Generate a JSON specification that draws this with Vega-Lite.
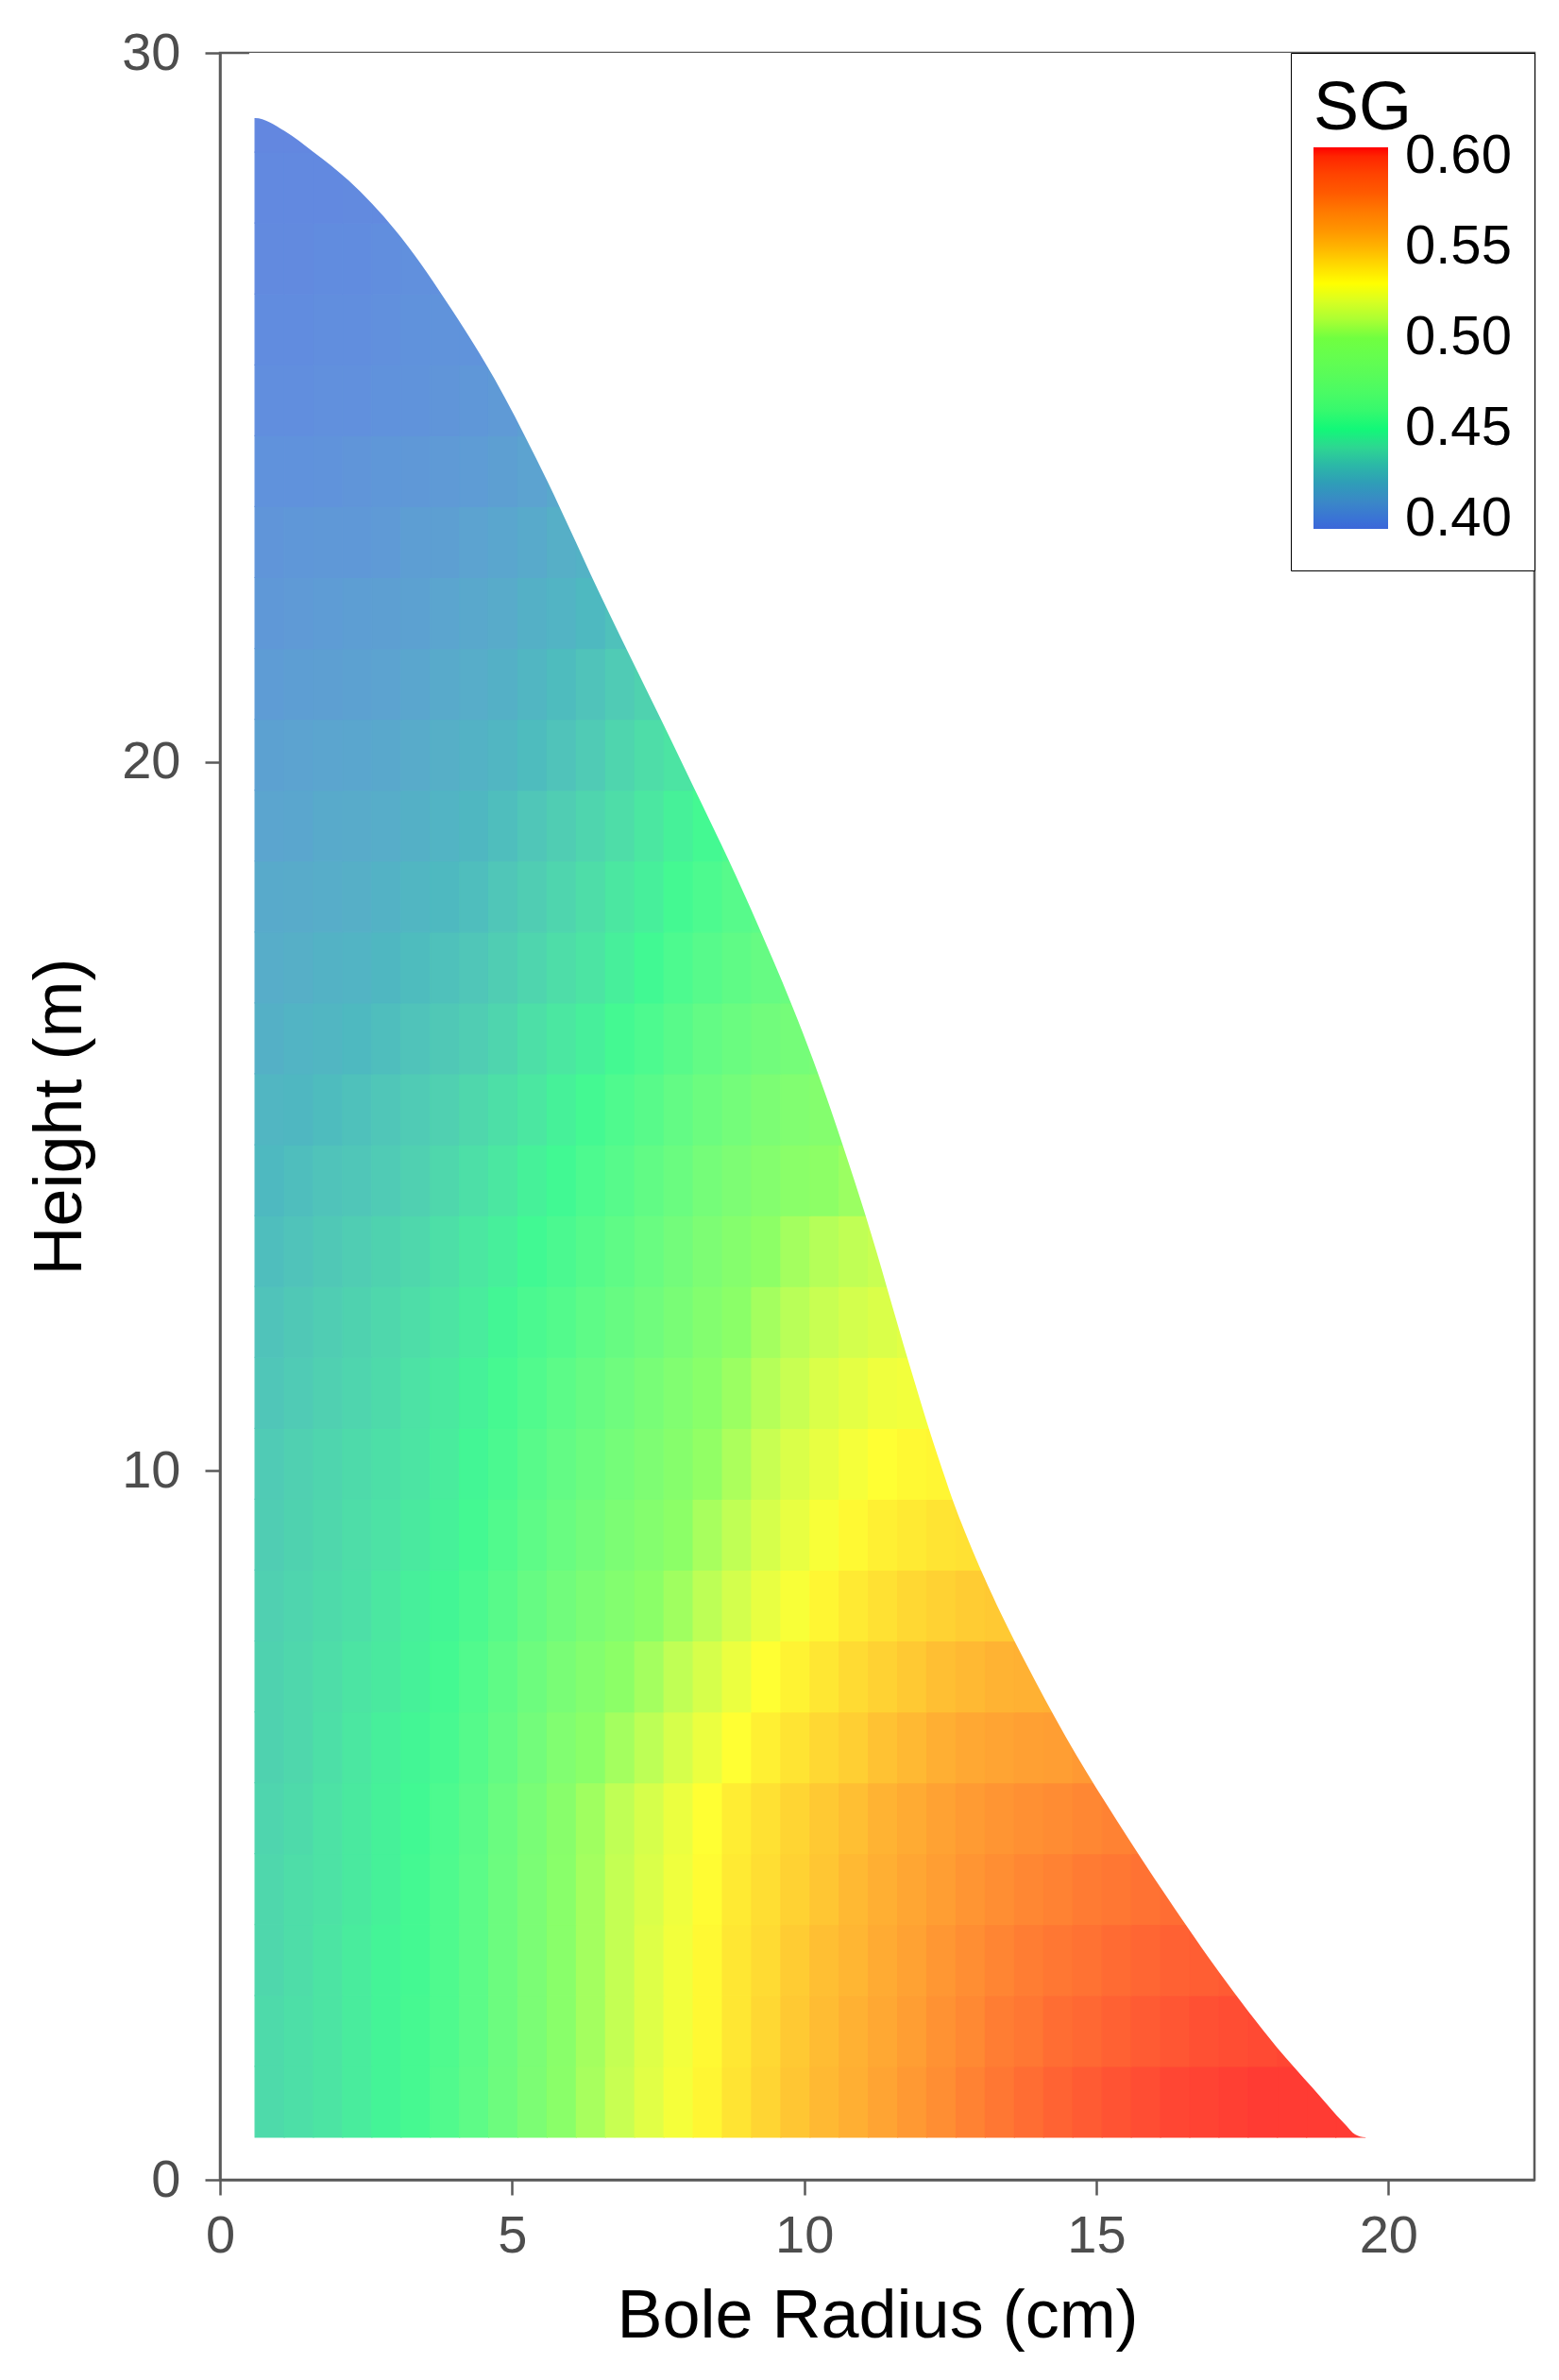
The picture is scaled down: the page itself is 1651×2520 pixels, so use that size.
{
  "$schema": "https://vega.github.io/schema/vega-lite/v6.json",
  "width": 1392,
  "height": 2252,
  "autosize": {"type": "none"},
  "padding": {"left": 233, "top": 56, "right": 26, "bottom": 212},
  "background": "white",
  "config": {
    "font": "Liberation Sans",
    "view": {"stroke": "#5a5a5a", "strokeWidth": 2.5},
    "axis": {
      "domainColor": "#5a5a5a", "domainWidth": 2.5,
      "tickColor": "#5a5a5a", "tickWidth": 2.5, "tickSize": 16,
      "labelFont": "Liberation Sans", "labelFontSize": 56, "labelColor": "#4d4d4d",
      "titleFont": "Liberation Sans", "titleFontSize": 72, "titleFontWeight": "normal", "titleColor": "black",
      "grid": false, "labelFlush": false
    }
  },
  "datasets": {
    "cols": [
      {"r0": 0.6, "r1": 1.1}, {"r0": 1.1, "r1": 1.6}, {"r0": 1.6, "r1": 2.1}, {"r0": 2.1, "r1": 2.6},
      {"r0": 2.6, "r1": 3.1}, {"r0": 3.1, "r1": 3.6}, {"r0": 3.6, "r1": 4.1}, {"r0": 4.1, "r1": 4.6},
      {"r0": 4.6, "r1": 5.1}, {"r0": 5.1, "r1": 5.6}, {"r0": 5.6, "r1": 6.1}, {"r0": 6.1, "r1": 6.6},
      {"r0": 6.6, "r1": 7.1}, {"r0": 7.1, "r1": 7.6}, {"r0": 7.6, "r1": 8.1}, {"r0": 8.1, "r1": 8.6},
      {"r0": 8.6, "r1": 9.1}, {"r0": 9.1, "r1": 9.6}, {"r0": 9.6, "r1": 10.1}, {"r0": 10.1, "r1": 10.6},
      {"r0": 10.6, "r1": 11.1}, {"r0": 11.1, "r1": 11.6}, {"r0": 11.6, "r1": 12.1}, {"r0": 12.1, "r1": 12.6},
      {"r0": 12.6, "r1": 13.1}, {"r0": 13.1, "r1": 13.6}, {"r0": 13.6, "r1": 14.1}, {"r0": 14.1, "r1": 14.6},
      {"r0": 14.6, "r1": 15.1}, {"r0": 15.1, "r1": 15.6}, {"r0": 15.6, "r1": 16.1}, {"r0": 16.1, "r1": 16.6},
      {"r0": 16.6, "r1": 17.1}, {"r0": 17.1, "r1": 17.6}, {"r0": 17.6, "r1": 18.1}, {"r0": 18.1, "r1": 18.6},
      {"r0": 18.6, "r1": 19.1}, {"r0": 19.1, "r1": 19.6}
    ],
    "cells": [
      {"h0": 0.6, "h1": 1.6, "r0": [0.6,1.1,1.6,2.1,2.6,3.1,3.6,4.1,4.6,5.1,5.6,6.1,6.6,7.1,7.6,8.1,8.6,9.1,9.6,10.1,10.6,11.1,11.6,12.1,12.6,13.1,13.6,14.1,14.6,15.1,15.6,16.1,16.6,17.1,17.6,18.1,18.6,19.1],
       "sg": [0.438,0.440,0.442,0.445,0.448,0.452,0.457,0.464,0.474,0.485,0.497,0.506,0.514,0.521,0.527,0.533,0.539,0.544,0.549,0.553,0.557,0.562,0.567,0.572,0.577,0.582,0.586,0.590,0.593,0.596,0.598,0.600,0.601,0.602,0.603,0.603,0.603,0.603]},
      {"h0": 1.6, "h1": 2.6, "r0": [0.6,1.1,1.6,2.1,2.6,3.1,3.6,4.1,4.6,5.1,5.6,6.1,6.6,7.1,7.6,8.1,8.6,9.1,9.6,10.1,10.6,11.1,11.6,12.1,12.6,13.1,13.6,14.1,14.6,15.1,15.6,16.1,16.6,17.1,17.6,18.1,18.6],
       "sg": [0.438,0.440,0.442,0.445,0.448,0.452,0.456,0.463,0.473,0.484,0.496,0.505,0.513,0.520,0.526,0.532,0.538,0.543,0.548,0.552,0.556,0.560,0.565,0.570,0.574,0.579,0.582,0.586,0.588,0.591,0.593,0.595,0.597,0.598,0.599,0.600,0.601]},
      {"h0": 2.6, "h1": 3.6, "r0": [0.6,1.1,1.6,2.1,2.6,3.1,3.6,4.1,4.6,5.1,5.6,6.1,6.6,7.1,7.6,8.1,8.6,9.1,9.6,10.1,10.6,11.1,11.6,12.1,12.6,13.1,13.6,14.1,14.6,15.1,15.6,16.1,16.6,17.1,17.6],
       "sg": [0.437,0.439,0.442,0.445,0.448,0.451,0.456,0.463,0.473,0.484,0.496,0.505,0.513,0.520,0.526,0.532,0.538,0.542,0.547,0.551,0.554,0.559,0.563,0.568,0.572,0.576,0.579,0.582,0.584,0.587,0.589,0.591,0.592,0.593,0.594]},
      {"h0": 3.6, "h1": 4.6, "r0": [0.6,1.1,1.6,2.1,2.6,3.1,3.6,4.1,4.6,5.1,5.6,6.1,6.6,7.1,7.6,8.1,8.6,9.1,9.6,10.1,10.6,11.1,11.6,12.1,12.6,13.1,13.6,14.1,14.6,15.1,15.6,16.1,16.6],
       "sg": [0.437,0.439,0.441,0.444,0.447,0.451,0.456,0.463,0.473,0.484,0.496,0.505,0.513,0.519,0.525,0.531,0.537,0.541,0.545,0.549,0.553,0.557,0.561,0.565,0.569,0.572,0.575,0.577,0.580,0.582,0.584,0.586,0.587]},
      {"h0": 4.6, "h1": 5.6, "r0": [0.6,1.1,1.6,2.1,2.6,3.1,3.6,4.1,4.6,5.1,5.6,6.1,6.6,7.1,7.6,8.1,8.6,9.1,9.6,10.1,10.6,11.1,11.6,12.1,12.6,13.1,13.6,14.1,14.6,15.1,15.6,16.1],
       "sg": [0.436,0.438,0.441,0.444,0.447,0.450,0.455,0.462,0.472,0.483,0.495,0.504,0.512,0.518,0.524,0.530,0.536,0.540,0.544,0.548,0.551,0.555,0.559,0.563,0.566,0.569,0.571,0.573,0.575,0.577,0.579,0.581]},
      {"h0": 5.6, "h1": 6.6, "r0": [0.6,1.1,1.6,2.1,2.6,3.1,3.6,4.1,4.6,5.1,5.6,6.1,6.6,7.1,7.6,8.1,8.6,9.1,9.6,10.1,10.6,11.1,11.6,12.1,12.6,13.1,13.6,14.1,14.6,15.1],
       "sg": [0.435,0.437,0.440,0.443,0.446,0.449,0.453,0.459,0.468,0.478,0.489,0.497,0.505,0.511,0.518,0.524,0.530,0.535,0.539,0.543,0.546,0.550,0.553,0.557,0.560,0.562,0.564,0.565,0.567,0.568]},
      {"h0": 6.6, "h1": 7.6, "r0": [0.6,1.1,1.6,2.1,2.6,3.1,3.6,4.1,4.6,5.1,5.6,6.1,6.6,7.1,7.6,8.1,8.6,9.1,9.6,10.1,10.6,11.1,11.6,12.1,12.6,13.1,13.6,14.1,14.6],
       "sg": [0.435,0.437,0.439,0.442,0.444,0.447,0.451,0.457,0.465,0.474,0.483,0.491,0.499,0.505,0.512,0.518,0.524,0.530,0.534,0.538,0.542,0.545,0.548,0.551,0.553,0.555,0.556,0.557,0.558]},
      {"h0": 7.6, "h1": 8.6, "r0": [0.6,1.1,1.6,2.1,2.6,3.1,3.6,4.1,4.6,5.1,5.6,6.1,6.6,7.1,7.6,8.1,8.6,9.1,9.6,10.1,10.6,11.1,11.6,12.1,12.6,13.1,13.6,14.1],
       "sg": [0.434,0.436,0.438,0.440,0.443,0.446,0.449,0.454,0.461,0.469,0.477,0.484,0.491,0.498,0.504,0.511,0.517,0.523,0.528,0.533,0.537,0.540,0.543,0.545,0.547,0.548,0.549,0.550]},
      {"h0": 8.6, "h1": 9.6, "r0": [0.6,1.1,1.6,2.1,2.6,3.1,3.6,4.1,4.6,5.1,5.6,6.1,6.6,7.1,7.6,8.1,8.6,9.1,9.6,10.1,10.6,11.1,11.6,12.1,12.6,13.1],
       "sg": [0.433,0.435,0.437,0.439,0.441,0.444,0.447,0.451,0.457,0.464,0.471,0.478,0.485,0.492,0.499,0.506,0.512,0.518,0.523,0.528,0.532,0.535,0.537,0.539,0.540,0.541]},
      {"h0": 9.6, "h1": 10.6, "r0": [0.6,1.1,1.6,2.1,2.6,3.1,3.6,4.1,4.6,5.1,5.6,6.1,6.6,7.1,7.6,8.1,8.6,9.1,9.6,10.1,10.6,11.1,11.6,12.1,12.6],
       "sg": [0.432,0.434,0.436,0.438,0.440,0.442,0.445,0.449,0.454,0.461,0.467,0.473,0.480,0.487,0.494,0.501,0.507,0.514,0.519,0.523,0.527,0.530,0.532,0.533,0.534]},
      {"h0": 10.6, "h1": 11.6, "r0": [0.6,1.1,1.6,2.1,2.6,3.1,3.6,4.1,4.6,5.1,5.6,6.1,6.6,7.1,7.6,8.1,8.6,9.1,9.6,10.1,10.6,11.1,11.6,12.1,12.6],
       "sg": [0.430,0.432,0.434,0.436,0.438,0.441,0.444,0.447,0.452,0.457,0.463,0.469,0.475,0.482,0.489,0.496,0.503,0.509,0.514,0.519,0.522,0.525,0.526,0.528,0.528]},
      {"h0": 11.6, "h1": 12.6, "r0": [0.6,1.1,1.6,2.1,2.6,3.1,3.6,4.1,4.6,5.1,5.6,6.1,6.6,7.1,7.6,8.1,8.6,9.1,9.6,10.1,10.6,11.1,11.6,12.1],
       "sg": [0.429,0.431,0.433,0.435,0.437,0.439,0.442,0.445,0.449,0.454,0.458,0.464,0.470,0.476,0.483,0.491,0.498,0.505,0.510,0.514,0.517,0.519,0.521,0.522]},
      {"h0": 12.6, "h1": 13.6, "r0": [0.6,1.1,1.6,2.1,2.6,3.1,3.6,4.1,4.6,5.1,5.6,6.1,6.6,7.1,7.6,8.1,8.6,9.1,9.6,10.1,10.6,11.1,11.6],
       "sg": [0.427,0.429,0.431,0.433,0.435,0.437,0.440,0.443,0.446,0.450,0.454,0.459,0.465,0.471,0.478,0.486,0.493,0.500,0.505,0.509,0.512,0.514,0.515]},
      {"h0": 13.6, "h1": 14.6, "r0": [0.6,1.1,1.6,2.1,2.6,3.1,3.6,4.1,4.6,5.1,5.6,6.1,6.6,7.1,7.6,8.1,8.6,9.1,9.6,10.1,10.6,11.1],
       "sg": [0.425,0.427,0.429,0.430,0.432,0.434,0.437,0.440,0.443,0.447,0.450,0.455,0.460,0.466,0.472,0.480,0.486,0.492,0.497,0.500,0.503,0.504]},
      {"h0": 14.6, "h1": 15.6, "r0": [0.6,1.1,1.6,2.1,2.6,3.1,3.6,4.1,4.6,5.1,5.6,6.1,6.6,7.1,7.6,8.1,8.6,9.1,9.6,10.1,10.6,11.1],
       "sg": [0.423,0.424,0.426,0.428,0.430,0.432,0.434,0.437,0.440,0.443,0.447,0.451,0.456,0.461,0.467,0.473,0.479,0.485,0.489,0.492,0.494,0.495]},
      {"h0": 15.6, "h1": 16.6, "r0": [0.6,1.1,1.6,2.1,2.6,3.1,3.6,4.1,4.6,5.1,5.6,6.1,6.6,7.1,7.6,8.1,8.6,9.1,9.6,10.1,10.6],
       "sg": [0.420,0.422,0.423,0.425,0.427,0.429,0.431,0.433,0.436,0.440,0.443,0.446,0.451,0.455,0.461,0.467,0.472,0.477,0.480,0.483,0.484]},
      {"h0": 16.6, "h1": 17.6, "r0": [0.6,1.1,1.6,2.1,2.6,3.1,3.6,4.1,4.6,5.1,5.6,6.1,6.6,7.1,7.6,8.1,8.6,9.1,9.6,10.1],
       "sg": [0.418,0.419,0.421,0.422,0.424,0.426,0.428,0.430,0.433,0.436,0.439,0.442,0.446,0.450,0.455,0.460,0.465,0.469,0.472,0.474]},
      {"h0": 17.6, "h1": 18.6, "r0": [0.6,1.1,1.6,2.1,2.6,3.1,3.6,4.1,4.6,5.1,5.6,6.1,6.6,7.1,7.6,8.1,8.6,9.1,9.6],
       "sg": [0.416,0.417,0.418,0.419,0.421,0.423,0.425,0.427,0.430,0.433,0.436,0.439,0.443,0.446,0.451,0.455,0.460,0.463,0.466]},
      {"h0": 18.6, "h1": 19.6, "r0": [0.6,1.1,1.6,2.1,2.6,3.1,3.6,4.1,4.6,5.1,5.6,6.1,6.6,7.1,7.6,8.1,8.6,9.1],
       "sg": [0.413,0.414,0.416,0.417,0.418,0.420,0.422,0.424,0.427,0.430,0.433,0.436,0.439,0.443,0.447,0.451,0.455,0.458]},
      {"h0": 19.6, "h1": 20.6, "r0": [0.6,1.1,1.6,2.1,2.6,3.1,3.6,4.1,4.6,5.1,5.6,6.1,6.6,7.1,7.6,8.1,8.6],
       "sg": [0.411,0.412,0.413,0.414,0.415,0.417,0.419,0.421,0.423,0.426,0.429,0.432,0.436,0.439,0.442,0.446,0.449]},
      {"h0": 20.6, "h1": 21.6, "r0": [0.6,1.1,1.6,2.1,2.6,3.1,3.6,4.1,4.6,5.1,5.6,6.1,6.6,7.1,7.6,8.1],
       "sg": [0.408,0.409,0.410,0.411,0.412,0.414,0.416,0.418,0.420,0.423,0.426,0.429,0.432,0.435,0.438,0.441]},
      {"h0": 21.6, "h1": 22.6, "r0": [0.6,1.1,1.6,2.1,2.6,3.1,3.6,4.1,4.6,5.1,5.6,6.1,6.6,7.1],
       "sg": [0.406,0.407,0.408,0.409,0.410,0.411,0.413,0.415,0.417,0.420,0.422,0.425,0.428,0.431]},
      {"h0": 22.6, "h1": 23.6, "r0": [0.6,1.1,1.6,2.1,2.6,3.1,3.6,4.1,4.6,5.1,5.6,6.1,6.6],
       "sg": [0.404,0.405,0.406,0.406,0.407,0.409,0.410,0.412,0.414,0.416,0.419,0.421,0.424]},
      {"h0": 23.6, "h1": 24.6, "r0": [0.6,1.1,1.6,2.1,2.6,3.1,3.6,4.1,4.6,5.1,5.6,6.1],
       "sg": [0.402,0.402,0.403,0.404,0.405,0.406,0.407,0.408,0.410,0.412,0.415,0.417]},
      {"h0": 24.6, "h1": 25.6, "r0": [0.6,1.1,1.6,2.1,2.6,3.1,3.6,4.1,4.6,5.1,5.6],
       "sg": [0.400,0.400,0.401,0.401,0.402,0.403,0.404,0.405,0.407,0.409,0.411]},
      {"h0": 25.6, "h1": 26.6, "r0": [0.6,1.1,1.6,2.1,2.6,3.1,3.6,4.1,4.6],
       "sg": [0.399,0.399,0.400,0.400,0.401,0.402,0.403,0.403,0.405]},
      {"h0": 26.6, "h1": 27.6, "r0": [0.6,1.1,1.6,2.1,2.6,3.1,3.6,4.1],
       "sg": [0.398,0.398,0.399,0.399,0.400,0.401,0.401,0.402]},
      {"h0": 27.6, "h1": 28.6, "r0": [0.6,1.1,1.6,2.1,2.6,3.1],
       "sg": [0.397,0.397,0.397,0.398,0.398,0.399]},
      {"h0": 28.6, "h1": 29.6, "r0": [0.6,1.1,1.6,2.1],
       "sg": [0.396,0.396,0.396,0.397]}
    ]
  },
  "resolve": {"scale": {"color": "independent"}, "legend": {"color": "independent"}},
  "layer": [
    {
      "data": {"name": "cells"},
      "transform": [
        {"flatten": ["r0", "sg", "sg"], "as": ["r0", "sg", "sgs"]},
        {"lookup": "r0", "from": {"data": {"name": "cols"}, "key": "r0", "fields": ["r1"]}}
      ],
      "mark": {"type": "rect", "clip": true, "strokeWidth": 1.2},
      "encoding": {
        "x": {
          "field": "r0", "type": "quantitative",
          "scale": {"domain": [0, 22.5], "nice": false, "zero": false},
          "title": "Bole Radius (cm)",
          "axis": {"values": [0, 5, 10, 15, 20], "labelPadding": 16, "titlePadding": 22, "format": "d"}
        },
        "x2": {"field": "r1"},
        "y": {
          "field": "h0", "type": "quantitative",
          "scale": {"domain": [0, 30], "nice": false, "zero": false},
          "title": "Height (m)",
          "axis": {"values": [0, 10, 20, 30], "labelPadding": 26, "titlePadding": 28, "format": "d"}
        },
        "y2": {"field": "h1"},
        "color": {
          "field": "sg", "type": "quantitative",
          "scale": {
            "domain": [0.395, 0.4, 0.425, 0.45, 0.5, 0.53, 0.555, 0.58, 0.605],
            "range": ["#6385e1", "#618ede", "#4eb9c0", "#41f993", "#8dff66", "#ffff33", "#ffb333", "#ff7b33", "#ff3333"],
            "interpolate": "lab"
          },
          "legend": null
        },
        "stroke": {
          "field": "sgs", "type": "quantitative",
          "scale": {
            "domain": [0.395, 0.4, 0.425, 0.45, 0.5, 0.53, 0.555, 0.58, 0.605],
            "range": ["#6385e1", "#618ede", "#4eb9c0", "#41f993", "#8dff66", "#ffff33", "#ffb333", "#ff7b33", "#ff3333"],
            "interpolate": "lab"
          },
          "legend": null
        }
      }
    },
    {
      "data": {"values": [
        {"r": 0.5, "h": 29.08}, {"r": 0.6, "h": 29.08}, {"r": 1.1, "h": 28.9}, {"r": 1.6, "h": 28.6},
        {"r": 2.2, "h": 28.2}, {"r": 3.0, "h": 27.5}, {"r": 3.95, "h": 26.4}, {"r": 4.7, "h": 25.4},
        {"r": 5.4, "h": 24.3}, {"r": 6.6, "h": 22.2}, {"r": 7.9, "h": 20.0}, {"r": 9.1, "h": 17.9},
        {"r": 10.15, "h": 15.8}, {"r": 11.05, "h": 13.6}, {"r": 11.8, "h": 11.5}, {"r": 12.17, "h": 10.5},
        {"r": 12.37, "h": 10.0}, {"r": 12.58, "h": 9.5}, {"r": 12.82, "h": 9.0}, {"r": 13.08, "h": 8.5},
        {"r": 13.36, "h": 8.0}, {"r": 13.85, "h": 7.2}, {"r": 14.65, "h": 6.0}, {"r": 15.35, "h": 5.07},
        {"r": 16.2, "h": 4.0}, {"r": 17.1, "h": 2.93}, {"r": 18.1, "h": 1.86}, {"r": 18.7, "h": 1.3},
        {"r": 19.25, "h": 0.79}, {"r": 19.43, "h": 0.64}, {"r": 19.6, "h": 0.6}, {"r": 20.0, "h": 0.6}
      ]},
      "mark": {"type": "area", "color": "white", "opacity": 1, "interpolate": "monotone", "clip": true},
      "encoding": {
        "x": {"field": "r", "type": "quantitative"},
        "y": {"field": "h", "type": "quantitative"},
        "y2": {"datum": 30}
      }
    },
    {
      "data": {"name": "cells"},
      "transform": [
        {"flatten": ["r0", "sg"]},
        {"lookup": "r0", "from": {"data": {"name": "cols"}, "key": "r0", "fields": ["r1"]}}
      ],
      "mark": {"type": "rect", "opacity": 0, "clip": true},
      "encoding": {
        "x": {"field": "r0", "type": "quantitative"},
        "x2": {"field": "r1"},
        "y": {"field": "h0", "type": "quantitative"},
        "y2": {"field": "h1"},
        "color": {
          "field": "sg", "type": "quantitative", "title": "SG",
          "scale": {
            "domain": [0.395, 0.4, 0.425, 0.45, 0.5, 0.53, 0.555, 0.58, 0.605],
            "range": ["#3c66d9", "#3a72d6", "#22a8b0", "#12f878", "#70ff40", "#ffff00", "#ffa000", "#ff5a00", "#ff0000"],
            "interpolate": "lab"
          },
          "legend": {
            "type": "gradient",
            "orient": "top-right", "offset": 0,
            "values": [0.4, 0.45, 0.5, 0.55, 0.6], "format": ".2f",
            "direction": "vertical",
            "padding": 24, "strokeColor": "black", "fillColor": "white", "cornerRadius": 0,
            "titleFontSize": 72, "titleFontWeight": "normal", "titleColor": "black", "titlePadding": 4, "titleFont": "Liberation Sans",
            "gradientLength": 404, "gradientThickness": 79, "gradientStrokeWidth": 0,
            "labelFontSize": 58, "labelColor": "black", "labelOffset": 18, "labelFont": "Liberation Sans"
          }
        }
      }
    }
  ]
}
